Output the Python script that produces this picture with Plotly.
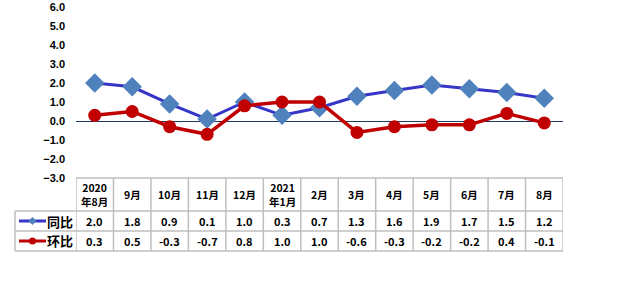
import plotly.graph_objects as go

categories = ["2020<br>年8月", "9月", "10月", "11月", "12月", "2021<br>年1月", "2月",
              "3月", "4月", "5月", "6月", "7月", "8月"]
yoy = [2.0, 1.8, 0.9, 0.1, 1.0, 0.3, 0.7, 1.3, 1.6, 1.9, 1.7, 1.5, 1.2]
mom = [0.3, 0.5, -0.3, -0.7, 0.8, 1.0, 1.0, -0.6, -0.3, -0.2, -0.2, 0.4, -0.1]
series_names = ["同比", "环比"]

W, H = 627, 305
def px(x):
    return x / W
def py(y):
    return 1 - y / H

BLUE_LINE = "#3535C8"
BLUE_MK = "#4F81BD"
RED = "#C00000"
GRID = "#BFBFBF"
FONT = "Noto Sans CJK SC, Liberation Sans, Arial"

fig = go.Figure()
fig.add_trace(go.Scatter(x=categories, y=yoy, mode="lines+markers", name=series_names[0],
                         line=dict(color=BLUE_LINE, width=3),
                         marker=dict(symbol="diamond", size=15, color=BLUE_MK)))
fig.add_trace(go.Scatter(x=categories, y=mom, mode="lines+markers", name=series_names[1],
                         line=dict(color=RED, width=3.5),
                         marker=dict(symbol="circle", size=13, color=RED)))

x0p, x1p = 76, 563
ytop, yplotbot = 7, 178
fig.update_layout(
    width=W, height=H, autosize=False,
    margin=dict(l=0, r=0, t=0, b=0, pad=0),
    paper_bgcolor="white", plot_bgcolor="white",
    showlegend=False,
    xaxis=dict(domain=[px(x0p), px(x1p)], type="category", range=[-0.5, len(categories) - 0.5],
               showticklabels=False, showgrid=False, zeroline=False, showline=False, ticks="",
               automargin=False),
    yaxis=dict(domain=[py(yplotbot), py(ytop)], range=[-3, 6], dtick=1, tickformat=".1f",
               showgrid=False, showline=False, ticks="", automargin=False,
               zeroline=True, zerolinecolor="#1F3864", zerolinewidth=1,
               ticklabelstandoff=10,
               tickfont=dict(family="Liberation Sans, Arial", size=11, color="black", weight="bold")),
)

# Table geometry
row_y = [178, 211, 231, 251]
left = 15
shapes = []
shapes.append(dict(type="line", xref="paper", yref="paper", x0=px(x0p), x1=px(x1p),
                   y0=py(row_y[0]), y1=py(row_y[0]), line=dict(color=GRID, width=1.5)))
for ry in row_y[1:]:
    shapes.append(dict(type="line", xref="paper", yref="paper", x0=px(left), x1=px(x1p),
                       y0=py(ry), y1=py(ry), line=dict(color=GRID, width=1.5)))
shapes.append(dict(type="line", xref="paper", yref="paper", x0=px(left), x1=px(left),
                   y0=py(row_y[1]), y1=py(row_y[3]), line=dict(color=GRID, width=1.5)))
for i in range(len(categories) + 1):
    shapes.append(dict(type="line", xref="x", yref="paper", x0=i - 0.5, x1=i - 0.5,
                       y0=py(row_y[0]), y1=py(row_y[3]), line=dict(color=GRID, width=1.5)))

# legend swatches
for (cy, lc, mc, sym) in [(221, BLUE_LINE, BLUE_MK, "diamond"), (241, RED, RED, "circle")]:
    shapes.append(dict(type="line", xref="paper", yref="paper", x0=px(19), x1=px(46),
                       y0=py(cy), y1=py(cy), line=dict(color=lc, width=3)))
    if sym == "circle":
        shapes.append(dict(type="circle", xref="paper", yref="paper",
                           x0=px(29), x1=px(36), y0=py(cy + 3.5), y1=py(cy - 3.5),
                           fillcolor=mc, line=dict(color=mc, width=0)))
    else:
        cx = 32.5
        path = (f"M {px(cx)} {py(cy-4)} L {px(cx+4)} {py(cy)} L {px(cx)} {py(cy+4)} "
                f"L {px(cx-4)} {py(cy)} Z")
        shapes.append(dict(type="path", xref="paper", yref="paper", path=path,
                           fillcolor=mc, line=dict(color=mc, width=0)))
fig.update_layout(shapes=shapes)

annotations = []
cellfont = dict(family=FONT, size=11, color="black", weight="bold")
headfont = dict(family=FONT, size=10.5, color="black", weight="bold")
def cell(x, y, text, xref="x", font=cellfont):
    annotations.append(dict(x=x, y=y, xref=xref, yref="paper", text=text, showarrow=False,
                            font=font, align="center", xanchor="center", yanchor="middle"))
for c in categories:
    cell(c, py((row_y[0] + row_y[1]) / 2), c, font=headfont)
for c, v in zip(categories, yoy):
    cell(c, py((row_y[1] + row_y[2]) / 2), f"{v:.1f}")
for c, v in zip(categories, mom):
    cell(c, py((row_y[2] + row_y[3]) / 2), f"{v:.1f}")
for name, cy in zip(series_names, [221, 241]):
    cell(px(60), py(cy), name, xref="paper",
         font=dict(family=FONT, size=13, color="black", weight="bold"))
fig.update_layout(annotations=annotations)

fig.write_html("out.html")
